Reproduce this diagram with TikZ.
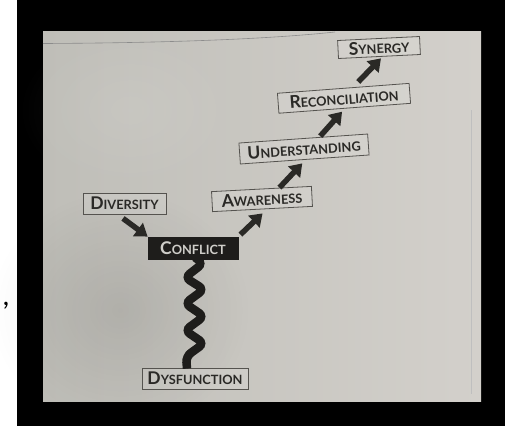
\documentclass[tikz,border=0pt]{standalone}
\usepackage{fontspec}
\setmainfont{Lato}
\usetikzlibrary{arrows.meta,fadings}
\tikzfading[name=softblob, inner color=transparent!0, outer color=transparent!100]
\definecolor{pageL}{HTML}{BFBEB8}
\definecolor{pageR}{HTML}{D3D0CB}
\definecolor{ink}{HTML}{2A2926}
\definecolor{boxline}{HTML}{55534F}
\definecolor{darkbox}{HTML}{1E1D1B}
\definecolor{lighttext}{HTML}{CFCEC9}
\newcommand\fsc[2]{{\fontsize{17.5}{17.5}\selectfont #1}{\fontsize{12.8}{12.8}\selectfont #2}}
\begin{document}
\begin{tikzpicture}[x=1pt,y=-1pt,
  box/.style={draw=boxline, line width=0.8pt, fill=white, fill opacity=0.12,
    text opacity=1, draw opacity=1, text=ink, inner sep=0pt, font=\bfseries},
  darkstyle/.style={fill=darkbox, fill opacity=1, draw=darkbox, text=lighttext},
  arr/.style={draw=ink, line width=5.5pt, -{Triangle[length=12pt,width=16pt]}},
  spring/.style={draw=darkbox, line width=8.5pt, rounded corners=6pt}]
\useasboundingbox (0,0) rectangle (505,426);
% background: white strip, black frame, page
\fill[white] (0,0) rectangle (17,426);
\fill[black] (17,0) rectangle (505,426);
\shade[left color=pageL, right color=pageR] (43,31) rectangle (481,401);
\fill[black, opacity=0.09, path fading=softblob] (120,310) ellipse (130 and 120);
\fill[white, opacity=0.08, path fading=softblob] (130,110) ellipse (110 and 80);
\draw[color=black!45, line width=0.6pt] (43,43.5) .. controls (150,43) and (260,40) .. (335,32);
\draw[color=black!25, line width=0.6pt] (471,110) -- (471,394);
\node[font=\fontsize{28}{28}\selectfont, text=black, inner sep=0pt] (comma) at (6,306) {,};
% boxes
\node[box, minimum width=82pt, minimum height=18pt, rotate=2.8] (syn) at (379,47.5) {\fsc{S}{YNERGY}};
\node[box, minimum width=132pt, minimum height=20pt, rotate=4.3] (rec) at (344,98.3) {\fsc{R}{ECONCILIATION}};
\node[box, minimum width=129pt, minimum height=21pt, rotate=4] (und) at (304,149) {\fsc{U}{NDERSTANDING}};
\node[box, minimum width=100pt, minimum height=20pt, rotate=3] (aw) at (262,199) {\fsc{A}{WARENESS}};
\node[box, minimum width=83pt, minimum height=21pt] (div) at (124.5,203.5) {\fsc{D}{IVERSITY}};
\node[box, darkstyle, minimum width=90pt, minimum height=22pt] (conf) at (193,248) {\fsc{C}{ONFLICT}};
\node[box, minimum width=106pt, minimum height=21pt] (dys) at (195,378.5) {\fsc{D}{YSFUNCTION}};
% arrows
\draw[arr] ([shift={(-1.5,4)}]div.south) -- (conf.north west);
\draw[arr] ([shift={(2,-2)}]conf.north east) -- ([shift={(0,4)}]aw.south);
\draw[arr] ([shift={(18,-1)}]aw.north) -- ([shift={(-2.5,3.5)}]und.south);
\draw[arr] ([shift={(17,-2)}]und.north) -- ([shift={(-2.7,3)}]rec.south);
\draw[arr] ([shift={(15,-6)}]rec.north) -- ([shift={(1.5,1.5)}]syn.south);
% spring
\draw[spring] ([shift={(2,-2)}]conf.south) -- ++(8,6) -- ++(-18,14) -- ++(19,12)
  -- ++(-19,14) -- ++(19,13) -- ++(-19,14) -- ++(19,13) -- ++(-18,13)
  -- ([shift={(-8,1)}]dys.north);
\end{tikzpicture}
\end{document}
